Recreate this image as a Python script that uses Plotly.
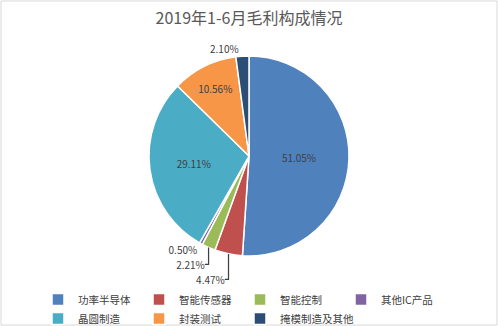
import plotly.graph_objects as go

categories = ["功率半导体", "智能传感器", "智能控制", "其他IC产品", "晶圆制造", "封装测试", "掩模制造及其他"]
values = [51.05, 4.47, 2.21, 0.50, 29.11, 10.56, 2.10]
colors = ["#4F81BD", "#C0504D", "#9BBB59", "#8064A2", "#4BACC6", "#F79646", "#2C4D75"]
text_pos = ["inside", "outside", "outside", "outside", "inside", "inside", "outside"]
title_text = "2019年1-6月毛利构成情况"

W, H = 498, 326
cx, cy, r = 249, 156, 100

fig = go.Figure(go.Pie(
    labels=categories,
    values=values,
    sort=False,
    direction="clockwise",
    rotation=0,
    marker=dict(colors=colors, line=dict(color="white", width=1.5)),
    texttemplate="%{value:.2f}%",
    textposition=text_pos,
    insidetextorientation="horizontal",
    textfont=dict(size=10, color="#404040"),
    domain=dict(x=[(cx - r) / W, (cx + r) / W], y=[1 - (cy + r) / H, 1 - (cy - r) / H]),
    hoverinfo="label+percent",
))

fig.update_layout(
    width=W, height=H,
    margin=dict(l=0, r=0, t=0, b=0, autoexpand=False),
    paper_bgcolor="white",
    font=dict(family="Noto Sans CJK SC", color="#404040"),
    title=dict(text=title_text, x=0.5, xanchor="center", y=1 - 18 / H, yanchor="middle",
               font=dict(size=16, color="#595959", family="Noto Sans CJK SC")),
    showlegend=True,
    legend=dict(orientation="h", x=38 / W, xanchor="left", y=1 - 285 / H, yanchor="top",
                entrywidth=56, entrywidthmode="pixels", itemwidth=30,
                bgcolor="rgba(0,0,0,0)",
                font=dict(size=10.5, color="#404040"), tracegroupgap=0),
    shapes=[dict(type="rect", xref="paper", yref="paper", x0=0.002, x1=0.998, y0=0.003, y1=0.997,
                 line=dict(color="#D9D9D9", width=1))],
)

fig.write_html("out.html")
